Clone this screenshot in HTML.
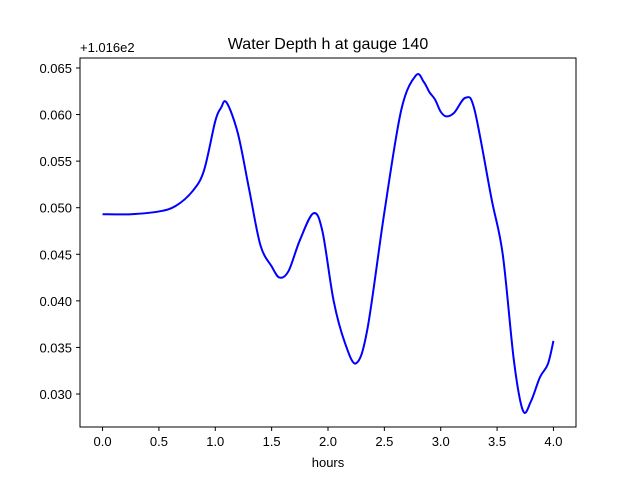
<!DOCTYPE html>
<html><head><meta charset="utf-8"><style>
body{margin:0;background:#fff;}
svg text{font-family:"Liberation Sans","DejaVu Sans",sans-serif;fill:#000;}
</style></head><body>
<svg id="chart" width="640" height="480" viewBox="0 0 640 480">
<rect width="640" height="480" fill="#fff"/>
<text x="328" y="49" font-size="16" text-anchor="middle">Water Depth h at gauge 140</text>
<text x="80" y="52" font-size="13">+1.016e2</text>
<g id="xticks"></g><g id="yticks"></g>
<path id="line" fill="none" stroke="#0000ff" stroke-width="2"/>
<rect x="80" y="58" width="496" height="369" fill="none" stroke="#000" stroke-width="1"/>
<text x="328" y="467" font-size="13" text-anchor="middle">hours</text>
</svg>
<script>
const hours=[0,0.25,0.5,0.65,0.8,0.9,1.0,1.05,1.1,1.2,1.3,1.4,1.5,1.57,1.65,1.75,1.87,1.95,2.05,2.15,2.25,2.35,2.5,2.65,2.78,2.85,2.9,2.95,3.0,3.05,3.12,3.22,3.3,3.45,3.55,3.65,3.73,3.8,3.88,3.95,4.0];
const depth=[0.0493,0.0493,0.0496,0.0502,0.0518,0.054,0.0593,0.0607,0.0613,0.058,0.052,0.046,0.0437,0.0425,0.0432,0.0465,0.0494,0.0475,0.040,0.0355,0.0333,0.037,0.0495,0.0605,0.0642,0.0635,0.0624,0.0616,0.0603,0.0598,0.0602,0.0618,0.0605,0.051,0.045,0.0335,0.0282,0.0292,0.0318,0.0332,0.0357];
const xTicks=[0,0.5,1,1.5,2,2.5,3,3.5,4];
const xTickLabels=["0.0","0.5","1.0","1.5","2.0","2.5","3.0","3.5","4.0"];
const yTicks=[0.030,0.035,0.040,0.045,0.050,0.055,0.060,0.065];
const yTickLabels=["0.030","0.035","0.040","0.045","0.050","0.055","0.060","0.065"];
const ns="http://www.w3.org/2000/svg";
const X=v=>80+(v+0.2)/4.4*496;
const Y=v=>58+(0.06607-v)/(0.06607-0.02646)*369;
const xg=document.getElementById('xticks'),yg=document.getElementById('yticks');
xTicks.forEach((t,i)=>{
 const l=document.createElementNS(ns,'line');
 
 
 l.setAttribute('x1',X(t));l.setAttribute('x2',X(t));l.setAttribute('y1',427);l.setAttribute('y2',431);l.setAttribute('stroke','#000');xg.appendChild(l);
 const s=document.createElementNS(ns,'text');
 
 
 s.setAttribute('x',X(t));s.setAttribute('y',446);s.setAttribute('font-size','13');s.setAttribute('text-anchor','middle');s.textContent=xTickLabels[i];xg.appendChild(s);
});
yTicks.forEach((t,i)=>{
 const l=document.createElementNS(ns,'line');
 
 
 l.setAttribute('x1',76);l.setAttribute('x2',80);l.setAttribute('y1',Y(t));l.setAttribute('y2',Y(t));l.setAttribute('stroke','#000');yg.appendChild(l);
 const s=document.createElementNS(ns,'text');
 
 
 s.setAttribute('x',72);s.setAttribute('y',Y(t)+5);s.setAttribute('font-size','13');s.setAttribute('text-anchor','end');s.textContent=yTickLabels[i];yg.appendChild(s);
});
const P=hours.map((h,i)=>[X(h),Y(depth[i])]);
let d='M'+P[0][0]+','+P[0][1];
for(let i=0;i<P.length-1;i++){
 const p0=P[Math.max(0,i-1)],p1=P[i],p2=P[i+1],p3=P[Math.min(P.length-1,i+2)];
 const c1=[p1[0]+(p2[0]-p0[0])/6,p1[1]+(p2[1]-p0[1])/6];
 const c2=[p2[0]-(p3[0]-p1[0])/6,p2[1]-(p3[1]-p1[1])/6];
 d+=' C'+c1+' '+c2+' '+p2;
}
document.getElementById('line').setAttribute('d',d);
</script>
</body></html>
